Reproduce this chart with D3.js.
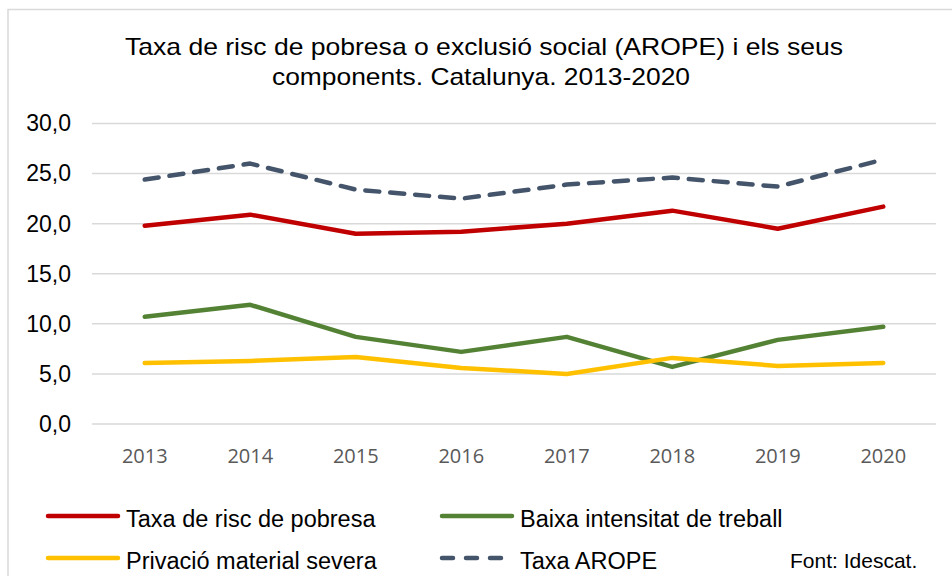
<!DOCTYPE html>
<html>
<head>
<meta charset="utf-8">
<script src="https://cdn.jsdelivr.net/npm/d3@7"></script>
<style>
  body { margin: 0; background: #fff; }
  svg { display: block; font-family: "Liberation Sans", Arial, sans-serif; }
</style>
</head>
<body>
<svg width="952" height="576"></svg>
<script>
// data (Idescat, AROPE i components, Catalunya)
let years = ['2013', '2014', '2015', '2016', '2017', '2018', '2019', '2020'];
let pobresa = [19.8, 20.9, 19.0, 19.2, 20.0, 21.3, 19.5, 21.7];
let baixaIntensitat = [10.7, 11.9, 8.7, 7.2, 8.7, 5.7, 8.4, 9.7];
let privacio = [6.1, 6.3, 6.7, 5.6, 5.0, 6.6, 5.8, 6.1];
let arope = [24.4, 26.0, 23.4, 22.5, 23.9, 24.6, 23.7, 26.4];
let yTicks = [0, 5, 10, 15, 20, 25, 30];

let series = [
  { name: 'Taxa de risc de pobresa', values: pobresa, color: '#c00000', dash: null },
  { name: 'Baixa intensitat de treball', values: baixaIntensitat, color: '#548235', dash: null },
  { name: 'Privació material severa', values: privacio, color: '#ffc000', dash: null },
  { name: 'Taxa AROPE', values: arope, color: '#44546a', dash: '14,11' }
];

let svg = d3.select('svg');

// chart border (only left/top visible in the crop)
svg.append('rect')
  .attr('x', 8).attr('y', 9.5)
  .attr('width', 960).attr('height', 600)
  .attr('fill', 'none')
  .attr('stroke', '#d9d9d9')
  .attr('stroke-width', 1.5);

// title
let title = svg.append('text')
  .attr('text-anchor', 'middle')
  .attr('font-size', 24)
  .attr('fill', '#000');
title.append('tspan').attr('x', 484).attr('y', 55)
  .attr('textLength', 718).attr('lengthAdjust', 'spacingAndGlyphs')
  .text('Taxa de risc de pobresa o exclusió social (AROPE) i els seus');
title.append('tspan').attr('x', 481).attr('y', 85)
  .attr('textLength', 418).attr('lengthAdjust', 'spacingAndGlyphs')
  .text('components. Catalunya. 2013-2020');

let x = d3.scaleBand().domain(years).range([92, 936]);
let y = d3.scaleLinear().domain([0, 30]).range([424, 123.5]);

// gridlines
svg.append('g')
  .selectAll('line')
  .data(yTicks)
  .join('line')
  .attr('x1', 92).attr('x2', 936)
  .attr('y1', d => y(d)).attr('y2', d => y(d))
  .attr('stroke', '#d9d9d9')
  .attr('stroke-width', 1.5);

// y axis
let yAxis = svg.append('g')
  .attr('transform', 'translate(71,0)')
  .call(d3.axisLeft(y).tickValues(yTicks).tickSize(0).tickPadding(0)
    .tickFormat(d => d3.format('.1f')(d).replace('.', ',')));
yAxis.select('.domain').remove();
yAxis.selectAll('text')
  .attr('font-size', 23)
  .attr('font-family', '"Liberation Sans", Arial, sans-serif')
  .attr('fill', '#000');

// x axis
let xAxis = svg.append('g')
  .attr('transform', 'translate(0,449)')
  .call(d3.axisBottom(x).tickSize(0).tickPadding(0));
xAxis.select('.domain').remove();
xAxis.selectAll('text')
  .attr('font-size', 20)
  .attr('font-family', '"Open Sans", sans-serif')
  .attr('fill', '#595959');

// lines
let line = d3.line()
  .x((d, i) => x(years[i]) + x.bandwidth() / 2)
  .y(d => y(d));

svg.append('g')
  .selectAll('path')
  .data(series)
  .join('path')
  .attr('d', d => line(d.values))
  .attr('fill', 'none')
  .attr('stroke', d => d.color)
  .attr('stroke-width', 4.5)
  .attr('stroke-linecap', 'round')
  .attr('stroke-linejoin', 'round')
  .attr('stroke-dasharray', d => d.dash);

// legend
let legendPos = [
  { x: 48, y: 516 },
  { x: 442, y: 516 },
  { x: 48, y: 558 },
  { x: 442, y: 558 }
];
let legend = svg.append('g')
  .selectAll('g')
  .data(series)
  .join('g')
  .attr('transform', (d, i) => `translate(${legendPos[i].x},${legendPos[i].y})`);
legend.append('line')
  .attr('x1', 0).attr('x2', 70)
  .attr('stroke', d => d.color)
  .attr('stroke-width', 4.5)
  .attr('stroke-linecap', 'round')
  .attr('stroke-dasharray', d => d.dash ? '11,13' : null);
legend.append('text')
  .attr('x', 78).attr('y', 11)
  .attr('font-size', 23.5)
  .attr('fill', '#000')
  .text(d => d.name);

svg.append('text')
  .attr('x', 790).attr('y', 568)
  .attr('font-size', 21)
  .attr('fill', '#000')
  .text('Font: Idescat.');
</script>
</body>
</html>
